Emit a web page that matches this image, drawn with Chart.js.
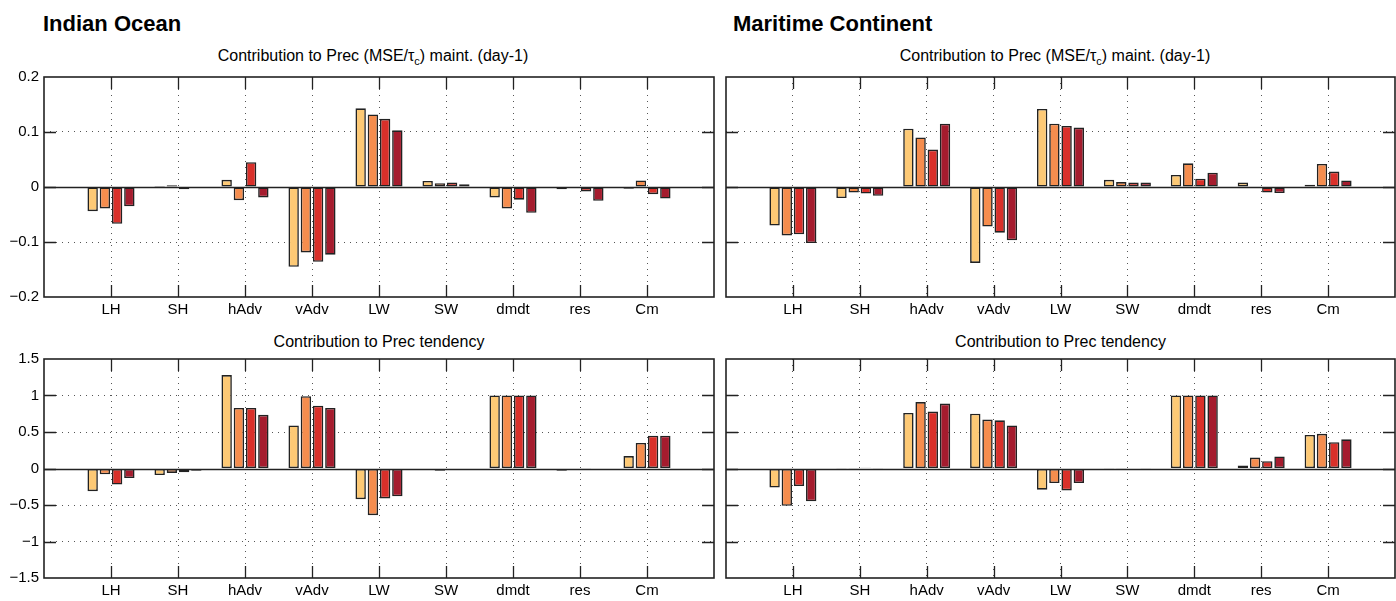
<!DOCTYPE html>
<html>
<head>
<meta charset="utf-8">
<script src="https://cdn.jsdelivr.net/npm/chart.js@4/dist/chart.umd.min.js"></script>
<style>
  body { margin: 0; background: #fff; font-family: 'Liberation Sans', Arial, sans-serif; color: #000; }
  #page { position: relative; width: 1396px; height: 601px; overflow: hidden; }
  .box { position: absolute; }
  .head { position: absolute; font-size: 22px; font-weight: bold; line-height: 22px; white-space: nowrap; }
  .sub { position: absolute; font-size: 16px; line-height: 16px; text-align: center; white-space: nowrap; }
  .sub sub { font-size: 11px; line-height: 0; vertical-align: -4px; }
</style>
</head>
<body>
<div id="page">
  <div class="head" style="left:43px; top:13px;">Indian Ocean</div>
  <div class="head" style="left:733px; top:13px;">Maritime Continent</div>

  <div class="sub" style="left:38px; width:670px; top:48px;">Contribution to Prec (MSE/&tau;<sub>c</sub>) maint. (day-1)</div>
  <div class="sub" style="left:720px; width:670px; top:48px;">Contribution to Prec (MSE/&tau;<sub>c</sub>) maint. (day-1)</div>
  <div class="sub" style="left:44px; width:670px; top:334px;">Contribution to Prec tendency</div>
  <div class="sub" style="left:726px; width:669px; top:334px;">Contribution to Prec tendency</div>

  <div class="box" style="left:0px; top:70px; width:720px; height:258px;"><canvas id="ioMaint"></canvas></div>
  <div class="box" style="left:720px; top:70px; width:676px; height:258px;"><canvas id="mcMaint"></canvas></div>
  <div class="box" style="left:0px; top:350px; width:720px; height:251px;"><canvas id="ioTend"></canvas></div>
  <div class="box" style="left:720px; top:350px; width:676px; height:251px;"><canvas id="mcTend"></canvas></div>
</div>

<script>
// terms of the MSE budget
var categories = ['LH', 'SH', 'hAdv', 'vAdv', 'LW', 'SW', 'dmdt', 'res', 'Cm'];

// y ticks
var maintTicks = [-0.2, -0.1, 0, 0.1, 0.2];
var tendTicks = [-1.5, -1, -0.5, 0, 0.5, 1, 1.5];

// Indian Ocean, maintenance (4 series)
var ioMaint1 = [-0.044, 0.002, 0.013, -0.145, 0.143, 0.011, -0.019, -0.004, -0.003];
var ioMaint2 = [-0.039, 0.003, -0.024, -0.119, 0.132, 0.007, -0.039, -0.002, 0.012];
var ioMaint3 = [-0.067, -0.004, 0.045, -0.136, 0.124, 0.008, -0.023, -0.008, -0.013];
var ioMaint4 = [-0.035, -0.002, -0.019, -0.123, 0.103, 0.005, -0.047, -0.025, -0.021];

// Maritime Continent, maintenance
var mcMaint1 = [-0.070, -0.020, 0.106, -0.138, 0.142, 0.013, 0.022, 0.008, 0.004];
var mcMaint2 = [-0.088, -0.010, 0.090, -0.072, 0.115, 0.009, 0.043, -0.002, 0.042];
var mcMaint3 = [-0.086, -0.012, 0.068, -0.083, 0.111, 0.008, 0.015, -0.010, 0.028];
var mcMaint4 = [-0.102, -0.016, 0.115, -0.097, 0.108, 0.008, 0.026, -0.011, 0.012];

// Indian Ocean, tendency
var ioTend1 = [-0.31, -0.09, 1.28, 0.59, -0.42, -0.01, 1.0, -0.03, 0.17];
var ioTend2 = [-0.08, -0.06, 0.83, 0.99, -0.64, -0.03, 1.0, -0.01, 0.35];
var ioTend3 = [-0.22, -0.05, 0.83, 0.86, -0.41, -0.01, 1.0, 0.005, 0.45];
var ioTend4 = [-0.13, -0.03, 0.735, 0.83, -0.38, -0.01, 1.0, -0.02, 0.45];

// Maritime Continent, tendency
var mcTend1 = [-0.26, -0.005, 0.76, 0.75, -0.29, 0.005, 1.0, 0.04, 0.46];
var mcTend2 = [-0.51, -0.005, 0.91, 0.67, -0.20, 0.005, 1.0, 0.15, 0.475];
var mcTend3 = [-0.24, 0.01, 0.78, 0.66, -0.30, -0.01, 1.0, 0.10, 0.36];
var mcTend4 = [-0.45, 0.005, 0.89, 0.59, -0.20, 0.005, 1.0, 0.165, 0.40];

var barColors = ['#FDC975', '#F58D4E', '#D9302A', '#A51C2E'];

Chart.defaults.font.family = "'Liberation Sans', Arial, Helvetica, sans-serif";
Chart.defaults.font.size = 15;
Chart.defaults.color = '#000';

// empty slot on both ends so the categories sit at 1..9 on a 0..10 axis
var paddedLabels = [''].concat(categories, ['']);
function pad(vals) { return [null].concat(vals, [null]); }

function fmtTick(v) {
  return String(v).replace('-', '\u2212');
}

// no extra room for end labels, the chart area is placed by hand
function noScalePadding(scale) {
  scale.paddingTop = 0;
  scale.paddingBottom = 0;
  scale.paddingLeft = 0;
  scale.paddingRight = 0;
}

// matlab-like frame: box, inward ticks and solid zero line
var framePlugin = {
  id: 'frame',
  afterDatasetsDraw: function(chart) {
    var ctx = chart.ctx;
    var a = chart.chartArea;
    var xs = chart.scales.x;
    var ys = chart.scales.y;
    var yt = chart.options.plugins.frame.ticks;
    ctx.save();
    ctx.strokeStyle = '#222';

    ctx.lineWidth = 1.5;
    var y0 = Math.round(ys.getPixelForValue(0)) + 0.5;
    ctx.beginPath();
    ctx.moveTo(a.left, y0);
    ctx.lineTo(a.right, y0);
    ctx.stroke();

    ctx.lineWidth = 1.3;
    ctx.beginPath();
    for (var i = 1; i <= categories.length; i++) {
      var px = Math.round(xs.getPixelForValue(i)) + 0.5;
      ctx.moveTo(px, a.top);
      ctx.lineTo(px, a.top + 12);
      ctx.moveTo(px, a.bottom);
      ctx.lineTo(px, a.bottom - 12);
    }
    for (var j = 1; j < yt.length - 1; j++) {
      var py = Math.round(ys.getPixelForValue(yt[j])) + 0.5;
      ctx.moveTo(a.left, py);
      ctx.lineTo(a.left + 12, py);
      ctx.moveTo(a.right, py);
      ctx.lineTo(a.right - 12, py);
    }
    ctx.stroke();

    ctx.lineWidth = 1.6;
    ctx.strokeRect(a.left, a.top, a.right - a.left, a.bottom - a.top);
    ctx.restore();
  }
};

function makePanel(canvasId, series, yTicks, showY, padding, xHeight) {
  var datasets = [];
  for (let i = 0; i < series.length; i++) {
    datasets.push({
      data: pad(series[i]),
      backgroundColor: barColors[i],
      borderColor: '#222',
      borderWidth: 1.6,
      borderSkipped: false,
      categoryPercentage: 0.73,
      barPercentage: 0.85
    });
  }

  return new Chart(document.getElementById(canvasId), {
    type: 'bar',
    data: { labels: paddedLabels, datasets: datasets },
    plugins: [framePlugin],
    options: {
      responsive: true,
      maintainAspectRatio: false,
      animation: false,
      layout: { padding: padding },
      scales: {
        x: {
          offset: false,
          grid: {
            offset: false,
            drawTicks: false,
            lineWidth: 1,
            color: function(c) {
              return (c.index === 0 || c.index === paddedLabels.length - 1) ? 'rgba(0,0,0,0)' : '#555';
            }
          },
          border: { display: false, dash: [1, 5] },
          ticks: { autoSkip: false, maxRotation: 0, padding: 4, font: { size: 15 } },
          afterFit: function(scale) {
            scale.height = xHeight;
            noScalePadding(scale);
          }
        },
        y: {
          min: yTicks[0],
          max: yTicks[yTicks.length - 1],
          afterBuildTicks: function(scale) {
            scale.ticks = yTicks.map(function(v) { return { value: v }; });
          },
          grid: {
            drawTicks: false,
            lineWidth: 1,
            color: function(c) {
              var v = c.tick ? c.tick.value : null;
              return (v === yTicks[0] || v === yTicks[yTicks.length - 1] || v === 0) ? 'rgba(0,0,0,0)' : '#555';
            }
          },
          border: { display: false, dash: [1, 5] },
          ticks: {
            display: showY,
            padding: 5,
            font: { size: 15 },
            callback: function(v) { return fmtTick(v); }
          },
          afterFit: function(scale) {
            scale.width = showY ? 44 : 0;
            noScalePadding(scale);
          }
        }
      },
      plugins: {
        legend: { display: false },
        tooltip: { enabled: false },
        frame: { ticks: yTicks }
      }
    }
  });
}

makePanel('ioMaint', [ioMaint1, ioMaint2, ioMaint3, ioMaint4], maintTicks, true,
  { top: 7, right: 6, left: 0, bottom: 0 }, 31);
makePanel('mcMaint', [mcMaint1, mcMaint2, mcMaint3, mcMaint4], maintTicks, false,
  { top: 7, right: 1, left: 6, bottom: 0 }, 31);
makePanel('ioTend', [ioTend1, ioTend2, ioTend3, ioTend4], tendTicks, true,
  { top: 9, right: 6, left: 0, bottom: 0 }, 23);
makePanel('mcTend', [mcTend1, mcTend2, mcTend3, mcTend4], tendTicks, false,
  { top: 9, right: 1, left: 6, bottom: 0 }, 23);
</script>
</body>
</html>
